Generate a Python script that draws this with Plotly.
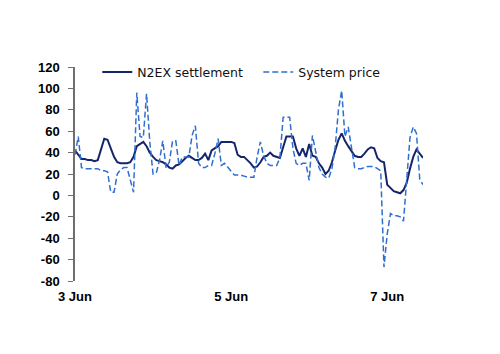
import pandas as pd
import plotly.graph_objects as go

# Hourly values from 3 Jun 00:00
n2ex = [42, 38, 34, 34, 33, 33, 32, 33, 44, 53, 52, 44, 36, 31, 30, 30, 30, 31, 36, 46,
        48, 50, 46, 40, 36, 33, 32, 31, 29, 26, 25, 28, 29, 32, 35, 37, 35, 33, 33, 35,
        39, 33, 42, 44, 46, 50, 50, 50, 50, 49, 38, 36, 36, 33, 30, 26, 27, 31, 36, 37,
        40, 37, 36, 35, 45, 55, 55, 55, 44, 37, 44, 36, 48, 37, 36, 30, 26, 20, 23, 31,
        42, 52, 58, 51, 46, 42, 37, 36, 36, 39, 43, 45, 44, 35, 32, 31, 10, 7, 4, 3,
        2, 5, 12, 25, 36, 43, 39, 35]
system_price = [38, 55, 26, 25, 25, 25, 25, 25, 23, 23, 22, 3, 3, 20, 24, 26, 26, 14, 3, 96,
                55, 54, 95, 50, 20, 21, 33, 51, 26, 31, 51, 51, 28, 36, 36, 36, 56, 65, 30, 26,
                26, 28, 28, 39, 53, 28, 30, 26, 22, 19, 19, 19, 18, 17, 17, 17, 36, 50, 37, 30,
                28, 28, 28, 35, 73, 73, 73, 44, 30, 28, 30, 30, 14, 56, 40, 26, 20, 17, 16, 25,
                45, 80, 98, 55, 64, 45, 26, 25, 25, 26, 27, 27, 27, 25, 23, -67, -36, -17, -19, -19,
                -20, -24, 20, 54, 64, 58, 15, 10]
times = pd.date_range("2023-06-03 00:00", periods=len(n2ex), freq="h")

y_ticks = [120, 100, 80, 60, 40, 20, 0, -20, -40, -60, -80]
y_tick_text = [str(v) for v in y_ticks]
x_tick_dates = ["2023-06-03", "2023-06-05", "2023-06-07"]
x_tick_text = ["3 Jun", "5 Jun", "7 Jun"]

y_min, y_max = -80, 120
x_range = [times[0], times[-1]]

fig = go.Figure()
fig.add_trace(go.Scatter(x=times, y=n2ex, mode="lines", name="N2EX settlement",
                         line=dict(color="#15256b", width=2)))
fig.add_trace(go.Scatter(x=times, y=system_price, mode="lines", name="System price",
                         line=dict(color="#2f6fd0", width=1.5, dash="6px,3px")))

font_tick = dict(family="Liberation Sans", size=13, color="#000000")

fig.update_layout(
    width=500, height=354,
    margin=dict(l=75, r=77, t=67, b=73),
    paper_bgcolor="white", plot_bgcolor="white",
    font=dict(family="Liberation Sans", size=12, color="#000000"),
    showlegend=True,
    legend=dict(orientation="h", x=0.064, y=0.975, xanchor="left", yanchor="middle",
                bgcolor="rgba(0,0,0,0)",
                font=dict(family="DejaVu Sans", size=12.5, color="#111111"),
                tracegroupgap=0, itemwidth=30, entrywidth=116, entrywidthmode="pixels"),
    xaxis=dict(type="date", range=x_range, showgrid=False, zeroline=False, showline=False,
               tickmode="array", tickvals=x_tick_dates, ticktext=x_tick_text,
               ticks="", tickfont=dict(font_tick, weight="bold"), ticklabelstandoff=6),
    xaxis2=dict(type="date", range=x_range, overlaying="x", anchor="free",
                position=(0 - y_min) / (y_max - y_min), showgrid=False, zeroline=False,
                showline=True, linecolor="#7f7f7f", linewidth=2,
                tickmode="array", tickvals=x_tick_dates, ticks="outside", ticklen=4,
                tickcolor="#000000", tickwidth=1, showticklabels=False),
    yaxis=dict(range=[y_min, y_max], showgrid=False, zeroline=False,
               showline=True, linecolor="#6f6f6f", linewidth=1.5,
               tickmode="array", tickvals=y_ticks, ticktext=y_tick_text,
               ticks="outside", ticklen=5, tickcolor="#6f6f6f",
               tickfont=dict(font_tick, weight="bold"), ticklabelstandoff=6),
)

fig.write_html("out.html")
